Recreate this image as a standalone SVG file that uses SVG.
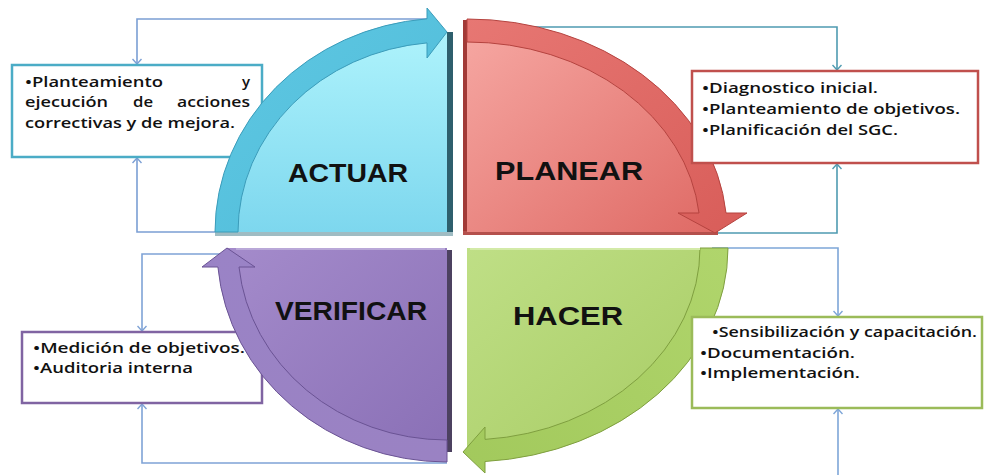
<svg xmlns="http://www.w3.org/2000/svg" width="987" height="475" viewBox="0 0 987 475">
  <style>
    .box { fill: #ffffff; stroke-width: 2.5; }
    .conn { fill: none; stroke-width: 1.6; }
    .txt { font-family: "Open Sans", "Liberation Sans", sans-serif; font-size: 15px; font-weight: 600; fill: #111111; }
    .lbl { font-family: "Liberation Sans", Arial, sans-serif; font-size: 26px; font-weight: bold; fill: #111111; }
    .edge { stroke-width: 1; stroke-linejoin: round; }
  </style>
  <defs>
    <marker id="vee" viewBox="-6 -5 7 10" refX="0" refY="0" markerWidth="7" markerHeight="10" markerUnits="userSpaceOnUse" orient="auto">
      <path d="M -5,-4.5 L 0,0 L -5,4.5" fill="none" stroke="context-stroke" stroke-width="1.4"/>
    </marker>
    <linearGradient id="cyanFill" x1="0" y1="0" x2="0" y2="1">
      <stop offset="0" stop-color="#aef3fc"/>
      <stop offset="1" stop-color="#7dd7ee"/>
    </linearGradient>
    <linearGradient id="cyanBand" x1="0" y1="0" x2="1" y2="1">
      <stop offset="0" stop-color="#5fc8e3"/>
      <stop offset="1" stop-color="#4fbbd8"/>
    </linearGradient>
    <linearGradient id="redFill" x1="0" y1="0" x2="1" y2="1">
      <stop offset="0" stop-color="#f6a7a2"/>
      <stop offset="1" stop-color="#df6a65"/>
    </linearGradient>
    <linearGradient id="redBand" x1="0" y1="0" x2="1" y2="1">
      <stop offset="0" stop-color="#e77773"/>
      <stop offset="1" stop-color="#d85d59"/>
    </linearGradient>
    <linearGradient id="greenFill" x1="0" y1="0" x2="1" y2="1">
      <stop offset="0" stop-color="#bfdf86"/>
      <stop offset="1" stop-color="#a7cb63"/>
    </linearGradient>
    <linearGradient id="greenBand" x1="1" y1="0" x2="0" y2="1">
      <stop offset="0" stop-color="#b0d56c"/>
      <stop offset="1" stop-color="#a2c95c"/>
    </linearGradient>
    <linearGradient id="purpleFill" x1="0" y1="0" x2="1" y2="1">
      <stop offset="0" stop-color="#a48bcb"/>
      <stop offset="1" stop-color="#8a70b6"/>
    </linearGradient>
    <linearGradient id="purpleBand" x1="0" y1="1" x2="0" y2="0">
      <stop offset="0" stop-color="#9a82c3"/>
      <stop offset="1" stop-color="#9a83c6"/>
    </linearGradient>
  </defs>

  <!-- feedback connectors -->
  <g id="connectors">
    <path class="conn" stroke="#7b9fd4" d="M 430,19 H 137 V 64" marker-end="url(#vee)"/>
    <path class="conn" stroke="#7b9fd4" d="M 220,232 H 137 V 158" marker-end="url(#vee)"/>
    <path class="conn" stroke="#4f9bb1" d="M 530,27 H 837 V 70" marker-end="url(#vee)"/>
    <path class="conn" stroke="#4f9bb1" d="M 712,233 H 837 V 164" marker-end="url(#vee)"/>
    <path class="conn" stroke="#7ea6d8" d="M 712,248 H 838 V 316" marker-end="url(#vee)"/>
    <path class="conn" stroke="#7ea6d8" d="M 838,476 V 409" marker-end="url(#vee)"/>
    <path class="conn" stroke="#7fa3d6" d="M 230,254 H 142 V 331" marker-end="url(#vee)"/>
    <path class="conn" stroke="#7fa3d6" d="M 447,463 H 142 V 404" marker-end="url(#vee)"/>
  </g>

  <!-- ACTUAR: note box sits behind the quadrant -->
  <g id="actuar">
    <rect class="box" x="12" y="65" width="250" height="92" stroke="#4bacc6"/>
    <text class="txt" x="25" y="87" textLength="138" lengthAdjust="spacingAndGlyphs">•Planteamiento</text>
    <text class="txt" x="250" y="87" text-anchor="end">y</text>
    <text class="txt" x="25" y="107" textLength="83" lengthAdjust="spacingAndGlyphs">ejecución</text>
    <text class="txt" x="133" y="107" textLength="20" lengthAdjust="spacingAndGlyphs">de</text>
    <text class="txt" x="177" y="107" textLength="73" lengthAdjust="spacingAndGlyphs">acciones</text>
    <text class="txt" x="25" y="128" textLength="210" lengthAdjust="spacingAndGlyphs">correctivas y de mejora.</text>

    <rect x="447" y="32" width="6" height="204" fill="#2e5f6d"/>
    <rect x="215" y="232" width="238" height="4" fill="#9fbcc3"/>
    <path d="M 447,232 L 228,232 A 219,200 0 0 1 437,32.2 L 447,32 Z" fill="url(#cyanFill)"/>
    <path class="edge" d="M 215,232 A 232,214 0 0 1 427,18.8 L 427,8 L 447,32 L 427,58 L 427,42.9 A 209,190 0 0 0 238,232 Z" fill="url(#cyanBand)" stroke="#3b9cba"/>
    <text class="lbl" x="288" y="182" textLength="120" lengthAdjust="spacingAndGlyphs">ACTUAR</text>
  </g>

  <!-- VERIFICAR: note box sits behind the quadrant -->
  <g id="verificar">
    <rect class="box" x="22" y="332" width="240" height="71" stroke="#8064a2"/>
    <text class="txt" x="33" y="353" textLength="212" lengthAdjust="spacingAndGlyphs">•Medición de objetivos.</text>
    <text class="txt" x="33" y="373" textLength="160" lengthAdjust="spacingAndGlyphs">•Auditoria interna</text>

    <rect x="445" y="250" width="7" height="202" fill="#4c4160"/>
    <path d="M 447,248 L 447,451 A 219,203 0 0 1 228.5,262 L 227,248 Z" fill="url(#purpleFill)"/>
    <path class="edge" d="M 447,462 A 230,214 0 0 1 217.9,267 L 202,267 L 227,248 L 255,267 L 239,267 A 209,192 0 0 0 447,440 Z" fill="url(#purpleBand)" stroke="#6a5394"/>
    <rect x="236" y="248" width="209" height="2" fill="#b9a8d8"/>
    <text class="lbl" x="275" y="320" textLength="152" lengthAdjust="spacingAndGlyphs">VERIFICAR</text>
  </g>

  <!-- PLANEAR: note box drawn over the quadrant -->
  <g id="planear">
    <rect x="463" y="20" width="5" height="215" fill="#a23a37"/>
    <rect x="463" y="231" width="255" height="4" fill="#b4504c"/>
    <path d="M 467,232 L 467,30 A 247,202 0 0 1 713,215 L 715,232 Z" fill="url(#redFill)"/>
    <path class="edge" d="M 467,19 A 260,213 0 0 1 726,213 L 747,213 L 715,233 L 678,213 L 699,213 A 233,190 0 0 0 467,42 Z" fill="url(#redBand)" stroke="#b5433f"/>
    <text class="lbl" x="495" y="180" textLength="148" lengthAdjust="spacingAndGlyphs">PLANEAR</text>

    <rect class="box" x="692" y="71" width="286" height="92" stroke="#c0504d"/>
    <text class="txt" x="702" y="93" textLength="176" lengthAdjust="spacingAndGlyphs">•Diagnostico inicial.</text>
    <text class="txt" x="702" y="114" textLength="258" lengthAdjust="spacingAndGlyphs">•Planteamiento de objetivos.</text>
    <text class="txt" x="702" y="135" textLength="196" lengthAdjust="spacingAndGlyphs">•Planificación del SGC.</text>
  </g>

  <!-- HACER: note box drawn over the quadrant -->
  <g id="hacer">
    <rect x="467" y="250" width="5" height="190" fill="#6f8f35"/>
    <path d="M 467,248 L 714,248 A 247,203 0 0 1 476,450.9 L 467,452 Z" fill="url(#greenFill)"/>
    <path class="edge" d="M 728,248 A 261,214 0 0 1 485,461.5 L 485,473 L 463,452 L 485,427 L 485,439.4 A 233,192 0 0 0 700,248 Z" fill="url(#greenBand)" stroke="#7f9f3f"/>
    <rect x="470" y="248" width="230" height="2" fill="#d3eaa8"/>
    <text class="lbl" x="513" y="325" textLength="110" lengthAdjust="spacingAndGlyphs">HACER</text>

    <rect class="box" x="692" y="317" width="290" height="91" stroke="#9bbb59"/>
    <text class="txt" x="712" y="337" textLength="265" lengthAdjust="spacingAndGlyphs">•Sensibilización y capacitación.</text>
    <text class="txt" x="700" y="358" textLength="155" lengthAdjust="spacingAndGlyphs">•Documentación.</text>
    <text class="txt" x="700" y="378" textLength="160" lengthAdjust="spacingAndGlyphs">•Implementación.</text>
  </g>
</svg>
